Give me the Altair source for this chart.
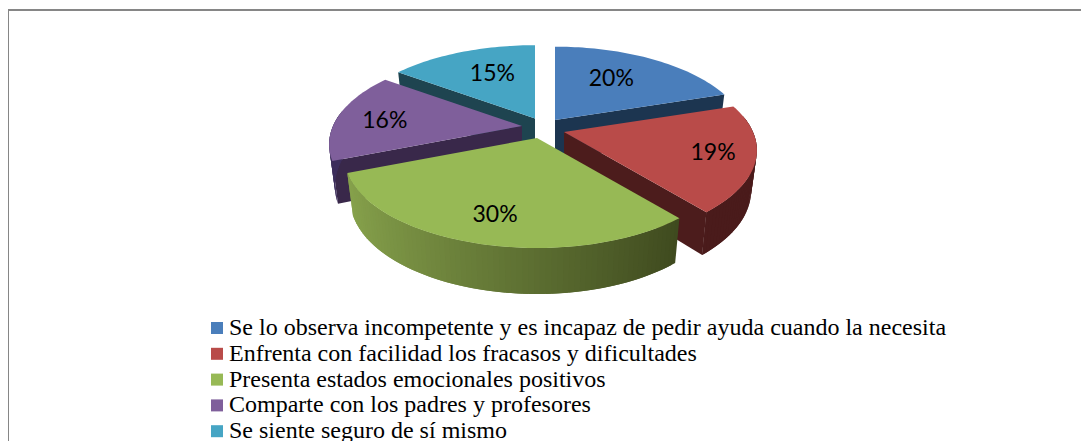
import math
import altair as alt

categories = [
    "Se lo observa incompetente y es incapaz de pedir ayuda cuando la necesita",
    "Enfrenta con facilidad los fracasos y dificultades",
    "Presenta estados emocionales positivos",
    "Comparte con los padres y profesores",
    "Se siente seguro de sí mismo",
]
values = [20, 19, 30, 16, 15]
top_colors = ["#4a7ebb", "#b94b49", "#97b955", "#7f5f9b", "#46a5c4"]
face_colors = ["#1c3550", "#4c1c1c", "#3c471d", "#39284a", "#1e4450"]
rim_left = ["#1c3550", "#5a2020", "#8aa64e", "#3d2e5c", "#1e4450"]
rim_right = ["#1c3550", "#4a1b1b", "#3c471d", "#3d2e5c", "#1e4450"]
# apex of each exploded slice, in plot pixels
apex_x = [547, 556, 529, 514, 527]
apex_y = [112, 124, 130, 118, 110.5]
rim_depth = [41, 39, 41, 41, 41]
label_frac = [0.62, 0.77, 0.72, 0.75, 0.64]
label_dx = [-3, 1, 0, 0, 4]
label_dy = [-3, 1, 1, 3, -2]

A, B, K = 189.0, 88.0, 0.2


def project(theta):
    u, v = math.sin(theta), -math.cos(theta)
    w = 1 - K * v
    return A * u / w, B * v / w, u, v


def lower(x, y, v, depth):
    return x * 0.97, y + depth + 5 * v


def hexmix(a, b, t):
    ca = [int(a[i:i + 2], 16) for i in (1, 3, 5)]
    cb = [int(b[i:i + 2], 16) for i in (1, 3, 5)]
    return "#%02x%02x%02x" % tuple(round(p + (q - p) * t) for p, q in zip(ca, cb))


def poly(points, **props):
    ring = [list(p) for p in points] + [list(points[0])]
    return {"type": "Feature", "properties": props,
            "geometry": {"type": "Polygon", "coordinates": [ring]}}


total = sum(values)
spans = []
start = 0.0
for val in values:
    end = start + val / total * 2 * math.pi
    spans.append((start, end))
    start = end

tops, sides_by_slice, labels = [], {}, []
for i, (t1, t2) in enumerate(spans):
    ax, ay = apex_x[i], apex_y[i]
    d = rim_depth[i]
    n = max(8, int((t2 - t1) * 40))
    pts = [(ax, ay)]
    for j in range(n + 1):
        x, y, _, _ = project(t1 + (t2 - t1) * j / n)
        pts.append((ax + x, ay + y))
    tops.append(poly(pts, cat=categories[i]))

    sides = []
    for t, visible in ((t1, t1 > math.pi), (t2, t2 < math.pi)):
        if visible:
            x, y, _, v = project(t)
            bx, by = lower(x, y, v, d)
            ab = lower(0, 0, 0, d)
            sides.append(poly([(ax, ay), (ax + x, ay + y), (ax + bx, ay + by),
                               (ax, ay + ab[1])], color=face_colors[i]))
    # rim strips painted left to right, each overlapping the next
    for j in range(n):
        a = t1 + (t2 - t1) * j / n
        b = t1 + (t2 - t1) * min(j + 2, n) / n
        xa, ya, ua, va = project(a)
        xb, yb, ub, vb = project(b)
        if max(va, vb) < -0.15:
            continue
        xa2, ya2 = lower(xa, ya, va, d)
        xb2, yb2 = lower(xb, yb, vb, d)
        shade = min(1, max(0, (ua + 1) / 1.7))
        c = hexmix(rim_left[i], rim_right[i], shade)
        sides.append(poly([(ax + xa, ay + ya), (ax + xb, ay + yb),
                           (ax + xb2, ay + yb2), (ax + xa2, ay + ya2)], color=c))
    sides_by_slice[i] = sides

    x, y, _, _ = project((t1 + t2) / 2)
    labels.append({"lon": ax + x * label_frac[i] + label_dx[i],
                   "lat": ay + y * label_frac[i] + label_dy[i],
                   "txt": f"{values[i]}%"})

side_features = []
for i in (4, 0, 3, 1, 2):
    side_features += sides_by_slice[i]

proj = alt.Projection(type="identity", scale=1, translate=[0, 0])

sides_layer = alt.Chart(alt.Data(values=side_features)).mark_geoshape(strokeWidth=0).encode(
    fill=alt.Fill("properties.color:N", scale=None, legend=None),
).project(**proj.to_dict())

tops_layer = alt.Chart(alt.Data(values=tops)).mark_geoshape(stroke=None).encode(
    fill=alt.Fill(
        "properties.cat:N",
        scale=alt.Scale(domain=categories, range=top_colors),
        legend=alt.Legend(
            title=None, orient="none", legendX=197, legendY=308,
            symbolType="square", symbolSize=144, symbolStrokeWidth=0,
            labelFont="Liberation Serif", labelFontSize=24, labelColor="#000000",
            labelLimit=1000, rowPadding=1.8, labelOffset=0, values=categories,
        ),
    ),
).project(**proj.to_dict())

text_layer = alt.Chart(alt.Data(values=labels)).mark_text(
    font="Lato", fontSize=23, color="#000000"
).encode(longitude="lon:Q", latitude="lat:Q", text="txt:N").project(**proj.to_dict())

frame_color = "#868686"
frame_top = alt.Chart().mark_rule(color=frame_color, strokeWidth=2).encode(
    x=alt.value(0), x2=alt.value(1073), y=alt.value(2))
frame_left = alt.Chart().mark_rule(color=frame_color, strokeWidth=2).encode(
    x=alt.value(0), y=alt.value(2), y2=alt.value(433))

chart = alt.layer(frame_top, frame_left, sides_layer, tops_layer, text_layer).resolve_scale(
    fill="independent"
).properties(
    width=1073, height=433, padding=0, autosize=alt.AutoSizeParams(type="none"),
    background="white",
).configure_view(stroke=None)

chart.save("out.html", embed_options={"renderer": "svg", "actions": False})
